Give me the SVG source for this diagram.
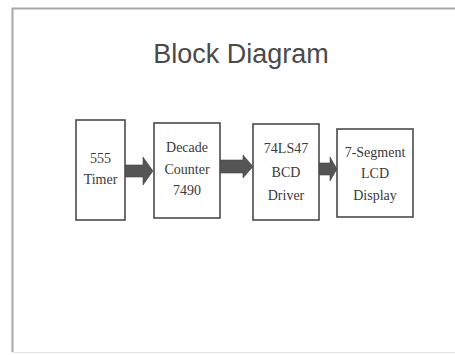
<svg xmlns="http://www.w3.org/2000/svg" width="455" height="355" viewBox="0 0 455 355">
<style>
.box{fill:#fff;stroke:#4a4a4a;stroke-width:1.6}
.t{font-family:"Liberation Serif","Times New Roman",serif;font-size:14px;fill:#3a3a3a;text-anchor:middle}
.arr{fill:#555;stroke:#444;stroke-width:0.6}
</style>
<rect x="0" y="0" width="455" height="355" fill="#fff"/>
<path d="M12.5 352 V8.5 H455" fill="none" stroke="#a8a8a8" stroke-width="2"/>
<path d="M12.5 352.5 H455" fill="none" stroke="#e2e2e2" stroke-width="1"/>
<text x="241" y="63" font-family="'Liberation Sans',Arial,sans-serif" font-size="27" fill="#4a4a4a" text-anchor="middle">Block Diagram</text>
<g id="connectors">
<polygon class="arr" points="125,165 143,165 143,157 153,171 143,185 143,177 125,177"/>
<polygon class="arr" points="220,160 243,160 243,155 253,166.5 243,178 243,173 220,173"/>
<polygon class="arr" points="319,163 330,163 330,157 337,169 330,181 330,175 319,175"/>
</g>
<g id="timer">
<rect class="box" x="76" y="120" width="49" height="100"/>
<text class="t" x="100.5" y="163">555</text>
<text class="t" x="100.5" y="184">Timer</text>
</g>
<g id="counter">
<rect class="box" x="154" y="123" width="66" height="95"/>
<text class="t" x="187" y="152">Decade</text>
<text class="t" x="187" y="174">Counter</text>
<text class="t" x="187" y="195">7490</text>
</g>
<g id="driver">
<rect class="box" x="253" y="124" width="66" height="96"/>
<text class="t" x="286" y="153">74LS47</text>
<text class="t" x="286" y="177">BCD</text>
<text class="t" x="286" y="200">Driver</text>
</g>
<g id="display">
<rect class="box" x="337" y="129" width="76" height="88"/>
<text class="t" x="375" y="157">7-Segment</text>
<text class="t" x="375" y="178">LCD</text>
<text class="t" x="375" y="200">Display</text>
</g>
</svg>
